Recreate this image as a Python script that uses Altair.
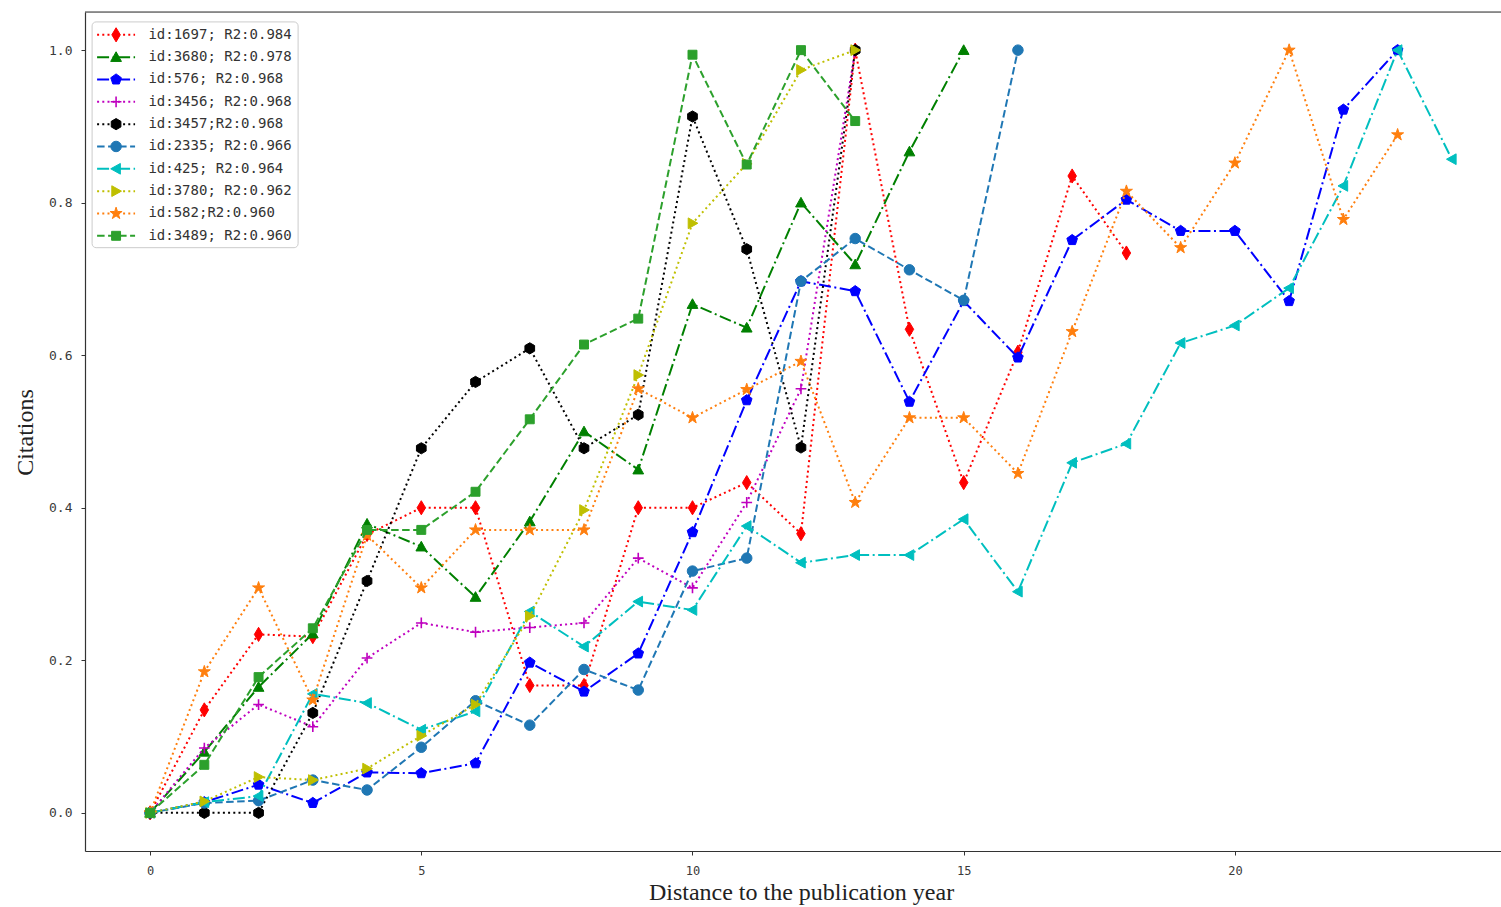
import altair as alt
import pandas as pd

# ---------------- data ----------------
series_ids = ["1697", "3680", "576", "3456", "3457", "2335", "425", "3780", "582", "3489"]
legend_labels = [
    "id:1697; R2:0.984",
    "id:3680; R2:0.978",
    "id:576; R2:0.968",
    "id:3456; R2:0.968",
    "id:3457;R2:0.968",
    "id:2335; R2:0.966",
    "id:425; R2:0.964",
    "id:3780; R2:0.962",
    "id:582;R2:0.960",
    "id:3489; R2:0.960",
]

v1697 = [0, 0.135, 0.234, 0.231, 0.365, 0.40, 0.40, 0.167, 0.167, 0.40, 0.40, 0.433, 0.366, 1.0,
         0.634, 0.433, 0.604, 0.835, 0.734]
v3680 = [0, 0.08, 0.165, 0.235, 0.379, 0.349, 0.283, 0.382, 0.50, 0.45, 0.667, 0.636, 0.80, 0.719,
         0.867, 1.0]
v576 = [0, 0.014, 0.037, 0.013, 0.053, 0.052, 0.065, 0.197, 0.159, 0.209, 0.368, 0.541, 0.697, 0.684,
        0.539, 0.671, 0.597, 0.751, 0.804, 0.763, 0.763, 0.671, 0.922, 1.0]
v3456 = [0, 0.085, 0.142, 0.113, 0.203, 0.249, 0.237, 0.243, 0.249, 0.334, 0.295, 0.407, 0.556, 1.0]
v3457 = [0, 0, 0, 0.131, 0.304, 0.478, 0.565, 0.609, 0.478, 0.522, 0.913, 0.739, 0.479, 1.0]
v2335 = [0, 0.013, 0.016, 0.043, 0.03, 0.086, 0.147, 0.115, 0.188, 0.161, 0.317, 0.334, 0.697, 0.753,
         0.712, 0.672, 1.0]
v425 = [0, 0.014, 0.022, 0.156, 0.144, 0.109, 0.133, 0.264, 0.218, 0.277, 0.266, 0.376, 0.328, 0.338,
        0.338, 0.385, 0.29, 0.459, 0.484, 0.616, 0.639, 0.688, 0.822, 1.0, 0.857]
v3780 = [0, 0.015, 0.047, 0.043, 0.058, 0.101, 0.142, 0.258, 0.397, 0.574, 0.773, 0.851, 0.974, 1.0]
v582 = [0, 0.185, 0.295, 0.148, 0.364, 0.295, 0.371, 0.371, 0.371, 0.556, 0.518, 0.555, 0.592, 0.407,
        0.518, 0.518, 0.445, 0.631, 0.815, 0.741, 0.852, 1.0, 0.778, 0.889]
v3489 = [0, 0.063, 0.178, 0.242, 0.371, 0.371, 0.421, 0.516, 0.614, 0.648, 0.994, 0.85, 1.0, 0.907]

all_values = [v1697, v3680, v576, v3456, v3457, v2335, v425, v3780, v582, v3489]

# ---------------- styles ----------------
colors = ["#ff0000", "#008000", "#0000ff", "#bf00bf", "#000000",
          "#1f77b4", "#00bfbf", "#bfbf00", "#ff7f0e", "#2ca02c"]
DOT = [2, 3.2]
DASH = [7.5, 3.5]
DASHDOT = [12, 3.5, 2, 3.5]
dashes = [DOT, DASHDOT, DASHDOT, DOT, DOT, DASH, DASHDOT, DOT, DOT, DASH]

THIN_DIAMOND = "M0,-1L0.6,0L0,1L-0.6,0Z"
TRI_UP = "M0,-1L1,0.8L-1,0.8Z"
TRI_LEFT = "M-1,0L0.8,-1L0.8,1Z"
TRI_RIGHT = "M1,0L-0.8,-1L-0.8,1Z"
PENTAGON = "M0,-1L0.951,-0.309L0.588,0.809L-0.588,0.809L-0.951,-0.309Z"
HEXAGON = "M0,-1L0.866,-0.5L0.866,0.5L0,1L-0.866,0.5L-0.866,-0.5Z"
PLUS = "M-1,0L1,0M0,-1L0,1"
STAR = ("M0,-1L0.2245,-0.309L0.951,-0.309L0.363,0.118L0.588,0.809L0,0.382L-0.588,0.809"
        "L-0.363,0.118L-0.951,-0.309L-0.2245,-0.309Z")
CIRCLE = "circle"
SQUARE = "M-0.8,-0.8L0.8,-0.8L0.8,0.8L-0.8,0.8Z"
shapes = [THIN_DIAMOND, TRI_UP, PENTAGON, PLUS, HEXAGON, CIRCLE, TRI_LEFT, TRI_RIGHT, STAR, SQUARE]
sizes = [200, 115, 125, 115, 125, 110, 115, 115, 160, 125]

# ---------------- layout ----------------
W, H = 1416, 839
PX_PER_UNIT = 54.24
X_MIN = -1.2
X_MAX = X_MIN + W / PX_PER_UNIT
Y_MIN, Y_MAX = -0.05, 1.05

# legend layout (in data units of the plot)
LEG_BOX = dict(x=-1.069, x2=2.729, y=0.741, y2=1.037)
LEG_ROW0, LEG_ROW_STEP = 1.0201, 0.02928
LEG_LINE_X0, LEG_LINE_X1, LEG_MARK_X, LEG_TEXT_X = -0.977, -0.277, -0.627, -0.031

rows = []
for sid, vals in zip(series_ids, all_values):
    for i, v in enumerate(vals):
        rows.append({"series": sid, "x": i, "y": v})
df = pd.DataFrame(rows)

x_axis = alt.Axis(
    values=[0, 5, 10, 15, 20], format="d", grid=False,
    labelFont="DejaVu Sans Mono", labelFontSize=12, labelColor="#3a3a3a", labelPadding=10,
    tickSize=4, tickColor="#333333", domainColor="#333333", domainWidth=1.2,
    title="Distance to the publication year", titleFont="Liberation Serif",
    titleFontSize=24, titleFontWeight="normal", titleColor="#222222",
    titleX=716, titleY=48, titleBaseline="alphabetic", titleAlign="center",
)
y_axis = alt.Axis(
    values=[0.0, 0.2, 0.4, 0.6, 0.8, 1.0], format=".1f", grid=False,
    labelFont="DejaVu Sans Mono", labelFontSize=13, labelColor="#3a3a3a", labelPadding=9,
    tickSize=4, tickColor="#333333", domainColor="#333333", domainWidth=1.2,
    title="Citations", titleFont="Liberation Serif", titleFontSize=24,
    titleFontWeight="normal", titleColor="#222222",
    titleX=-60, titleY=420, titleAngle=-90, titleAlign="center", titleBaseline="middle",
)
x_scale = alt.Scale(domain=[X_MIN, X_MAX], nice=False, zero=False)
y_scale = alt.Scale(domain=[Y_MIN, Y_MAX], nice=False, zero=False)


def X(field="x"):
    return alt.X(f"{field}:Q", scale=x_scale, axis=x_axis)


def Y(field="y"):
    return alt.Y(f"{field}:Q", scale=y_scale, axis=y_axis)


layers = []
for sid, c, d, s, sz in zip(series_ids, colors, dashes, shapes, sizes):
    sub = df[df.series == sid]
    layers.append(
        alt.Chart(sub).mark_line(color=c, strokeDash=d, strokeWidth=2, clip=True)
        .encode(x=X(), y=Y())
    )
    sw = 1.6 if s == PLUS else 1
    layers.append(
        alt.Chart(sub).mark_point(shape=s, size=sz, filled=True, fill=c, stroke=c,
                                  strokeWidth=sw, opacity=1, fillOpacity=1, clip=True)
        .encode(x=X(), y=Y())
    )

# top spine
layers.append(
    alt.Chart(pd.DataFrame({"a": [0]})).mark_rule(color="#333333", strokeWidth=1.2)
    .encode(x=alt.value(0), x2=alt.value(W), y=alt.value(0))
)

# legend box
box_df = pd.DataFrame([LEG_BOX])
layers.append(
    alt.Chart(box_df).mark_rect(fill="white", fillOpacity=0.85, stroke="#cccccc",
                                strokeWidth=1, cornerRadius=4)
    .encode(x=X("x"), x2="x2:Q", y=Y("y"), y2="y2:Q")
)

# legend entries
for i, (lab, c, d, s, sz) in enumerate(zip(legend_labels, colors, dashes, shapes, sizes)):
    ry = LEG_ROW0 - LEG_ROW_STEP * i
    ldf = pd.DataFrame({"x": [LEG_LINE_X0, LEG_LINE_X1], "y": [ry, ry]})
    layers.append(
        alt.Chart(ldf).mark_line(color=c, strokeDash=d, strokeWidth=2)
        .encode(x=X(), y=Y())
    )
    sw = 1.6 if s == PLUS else 1
    layers.append(
        alt.Chart(pd.DataFrame({"x": [LEG_MARK_X], "y": [ry]}))
        .mark_point(shape=s, size=sz, filled=True, fill=c, stroke=c, strokeWidth=sw,
                    opacity=1, fillOpacity=1)
        .encode(x=X(), y=Y())
    )

text_df = pd.DataFrame({
    "x": [LEG_TEXT_X] * len(legend_labels),
    "y": [LEG_ROW0 - LEG_ROW_STEP * i for i in range(len(legend_labels))],
    "label": legend_labels,
})
layers.append(
    alt.Chart(text_df).mark_text(align="left", baseline="middle", font="DejaVu Sans Mono",
                                 fontSize=14, color="#333333")
    .encode(x=X(), y=Y(), text="label:N")
)

chart = (
    alt.layer(*layers)
    .properties(width=W, height=H,
                autosize=alt.AutoSizeParams(type="none"),
                padding={"left": 85, "top": 12, "right": 0, "bottom": 56})
    .configure_view(strokeWidth=0)
    .configure(background="white")
)

chart.save("out.html", embed_options={"renderer": "svg", "actions": False})
